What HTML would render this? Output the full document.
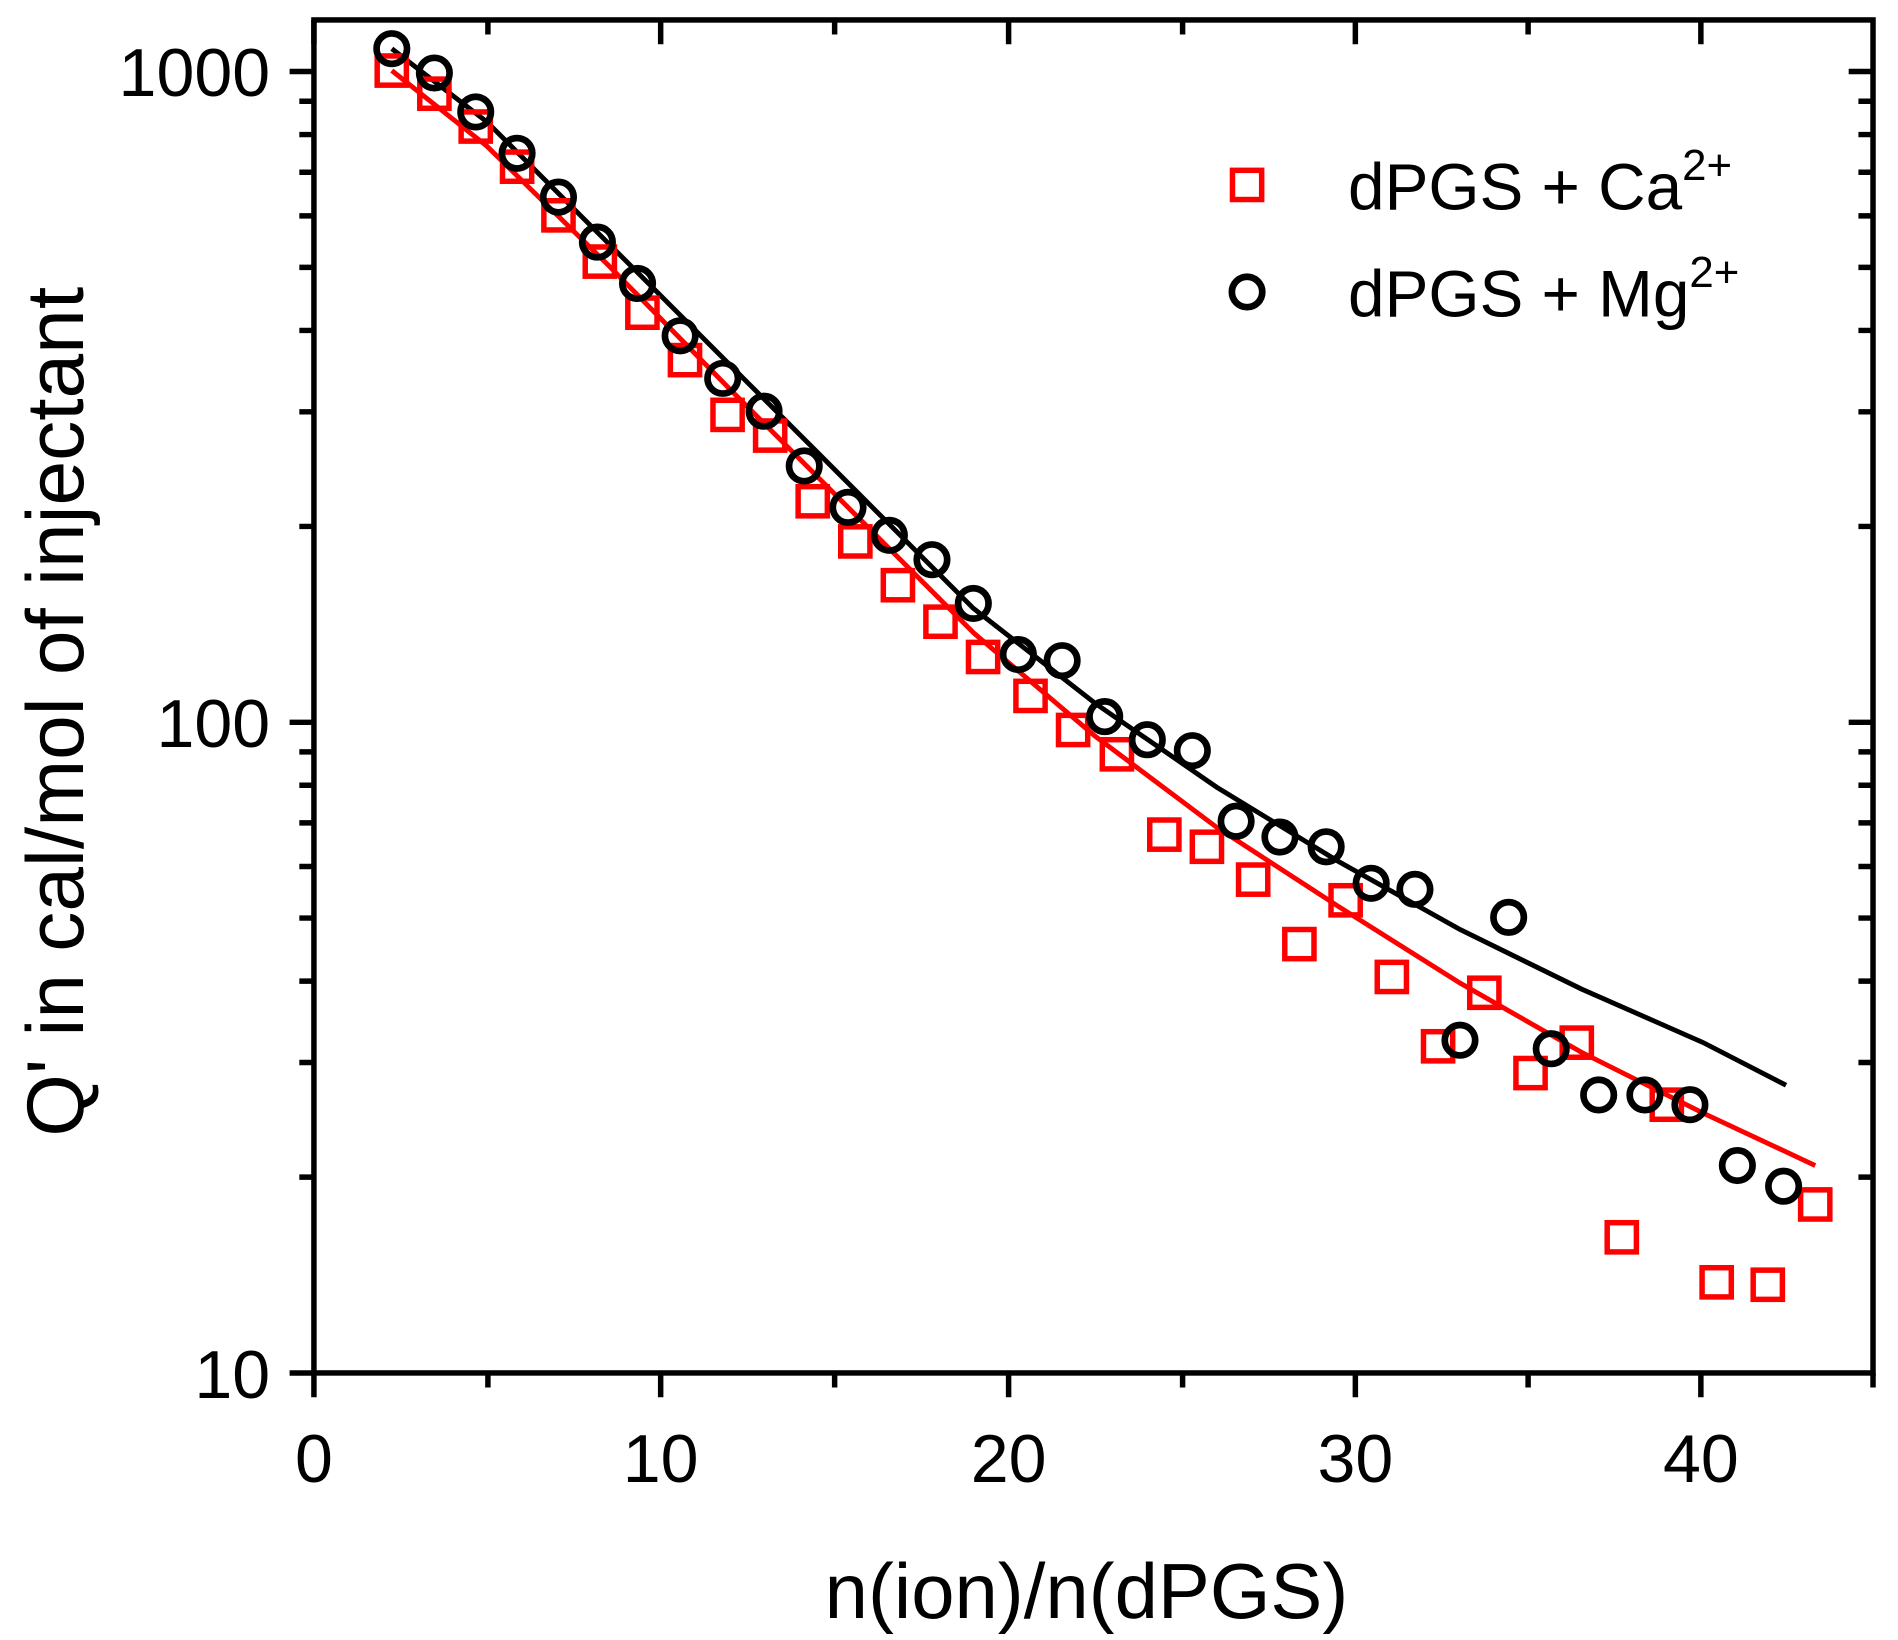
<!DOCTYPE html>
<html><head><style>html,body{margin:0;padding:0;background:#fff}svg{display:block}</style></head>
<body>
<svg width="1898" height="1640" viewBox="0 0 1560 1348" xmlns="http://www.w3.org/2000/svg" font-family="Liberation Sans, sans-serif">
<rect width="1560" height="1348" fill="#fff"/>
<g stroke="#000" stroke-width="4.5" fill="none">
<rect x="258" y="16.4" width="1281.5" height="1112.1"/>
<path d="M258 1128.5v20M401 1128.5v12M543 1128.5v20M686 1128.5v12M829 1128.5v20M972 1128.5v12M1114 1128.5v20M1256 1128.5v12M1398 1128.5v20M1539.5 1128.5v12
M258 16.4v20M401 16.4v12M543 16.4v20M686 16.4v12M829 16.4v20M972 16.4v12M1114 16.4v20M1256 16.4v12M1398 16.4v20"/>
<path d="M258 58.8h-20M258 593.7h-20M258 1128.5h-20M1539.5 58.8h-20M1539.5 593.7h-20"/>
<path d="M258 967.5h-12M258 873.3h-12M258 806.4h-12M258 754.6h-12M258 712.2h-12M258 676.4h-12M258 645.4h-12M258 618.0h-12
M258 432.7h-12M258 338.5h-12M258 271.6h-12M258 219.8h-12M258 177.4h-12M258 141.6h-12M258 110.6h-12M258 83.2h-12
M1539.5 967.5h-12M1539.5 873.3h-12M1539.5 806.4h-12M1539.5 754.6h-12M1539.5 712.2h-12M1539.5 676.4h-12M1539.5 645.4h-12M1539.5 618.0h-12
M1539.5 432.7h-12M1539.5 338.5h-12M1539.5 271.6h-12M1539.5 219.8h-12M1539.5 177.4h-12M1539.5 141.6h-12M1539.5 110.6h-12M1539.5 83.2h-12"/>
</g>
<g font-size="56" fill="#000">
<text x="258" y="1218" text-anchor="middle">0</text>
<text x="543" y="1218" text-anchor="middle">10</text>
<text x="829" y="1218" text-anchor="middle">20</text>
<text x="1114" y="1218" text-anchor="middle">30</text>
<text x="1398" y="1218" text-anchor="middle">40</text>
<text x="222" y="79" text-anchor="end">1000</text>
<text x="222" y="614" text-anchor="end">100</text>
<text x="222" y="1149" text-anchor="end">10</text>
</g>
<text x="893" y="1330" font-size="64" text-anchor="middle">n(ion)/n(dPGS)</text>
<text transform="translate(68,585) rotate(-90)" font-size="66" text-anchor="middle">Q' in cal/mol of injectant</text>
<polyline fill="none" stroke="#f00" stroke-width="4" points="322,58 400,120 500,218 600,320 700,420 800,520 900,605 1000,680 1100,745 1200,808 1300,865 1400,915 1492,958"/>
<polyline fill="none" stroke="#000" stroke-width="4" points="322,40 400,100 500,200 600,300 700,400 800,500 900,578 1000,647 1100,708 1200,764 1300,813 1400,857 1468,892"/>
<g fill="none" stroke="#f00" stroke-width="4.5">
<rect x="310" y="46" width="24" height="24"/><rect x="345" y="65" width="24" height="24"/><rect x="379" y="92" width="24" height="24"/><rect x="413" y="125" width="24" height="24"/><rect x="447" y="165" width="24" height="24"/><rect x="481" y="203" width="24" height="24"/><rect x="516" y="245" width="24" height="24"/><rect x="551" y="284" width="24" height="24"/><rect x="586" y="329" width="24" height="24"/><rect x="621" y="346" width="24" height="24"/><rect x="656" y="400" width="24" height="24"/><rect x="691" y="433" width="24" height="24"/><rect x="726" y="469" width="24" height="24"/><rect x="761" y="499" width="24" height="24"/><rect x="796" y="528" width="24" height="24"/><rect x="835" y="560" width="24" height="24"/><rect x="870" y="588" width="24" height="24"/><rect x="906" y="608" width="24" height="24"/><rect x="945" y="674" width="24" height="24"/><rect x="980" y="684" width="24" height="24"/><rect x="1018" y="711" width="24" height="24"/><rect x="1056" y="764" width="24" height="24"/><rect x="1094" y="728" width="24" height="24"/><rect x="1132" y="791" width="24" height="24"/><rect x="1170" y="848" width="24" height="24"/><rect x="1208" y="804" width="24" height="24"/><rect x="1246" y="870" width="24" height="24"/><rect x="1284" y="845" width="24" height="24"/><rect x="1321" y="1005" width="24" height="24"/><rect x="1358" y="896" width="24" height="24"/><rect x="1399" y="1042" width="24" height="24"/><rect x="1441" y="1044" width="24" height="24"/><rect x="1480" y="978" width="24" height="24"/>
<rect x="1013" y="140" width="24" height="24"/>
</g>
<g fill="none" stroke="#000" stroke-width="5.5">
<circle cx="322" cy="40" r="12.5"/><circle cx="357" cy="60" r="12.5"/><circle cx="391" cy="92" r="12.5"/><circle cx="425" cy="126" r="12.5"/><circle cx="459" cy="162" r="12.5"/><circle cx="491" cy="199" r="12.5"/><circle cx="524" cy="233" r="12.5"/><circle cx="559" cy="276" r="12.5"/><circle cx="594" cy="311" r="12.5"/><circle cx="628" cy="338" r="12.5"/><circle cx="661" cy="383" r="12.5"/><circle cx="697" cy="417" r="12.5"/><circle cx="731" cy="440" r="12.5"/><circle cx="766" cy="460" r="12.5"/><circle cx="800" cy="496" r="12.5"/><circle cx="837" cy="538" r="12.5"/><circle cx="873" cy="543" r="12.5"/><circle cx="908" cy="589" r="12.5"/><circle cx="943" cy="608" r="12.5"/><circle cx="980" cy="617" r="12.5"/><circle cx="1016" cy="675" r="12.5"/><circle cx="1052" cy="688" r="12.5"/><circle cx="1090" cy="696" r="12.5"/><circle cx="1127" cy="726" r="12.5"/><circle cx="1163" cy="731" r="12.5"/><circle cx="1200" cy="855" r="12.5"/><circle cx="1240" cy="754" r="12.5"/><circle cx="1275" cy="862" r="12.5"/><circle cx="1314" cy="900" r="12.5"/><circle cx="1352" cy="900" r="12.5"/><circle cx="1389" cy="908" r="12.5"/><circle cx="1428" cy="958" r="12.5"/><circle cx="1466" cy="975" r="12.5"/>
<circle cx="1025" cy="240" r="12.5"/>
</g>
<g font-size="54" fill="#000">
<text x="1108" y="172">dPGS + Ca<tspan font-size="36" dy="-24">2+</tspan></text>
<text x="1108" y="260">dPGS + Mg<tspan font-size="36" dy="-24">2+</tspan></text>
</g>
</svg>
</body></html>
